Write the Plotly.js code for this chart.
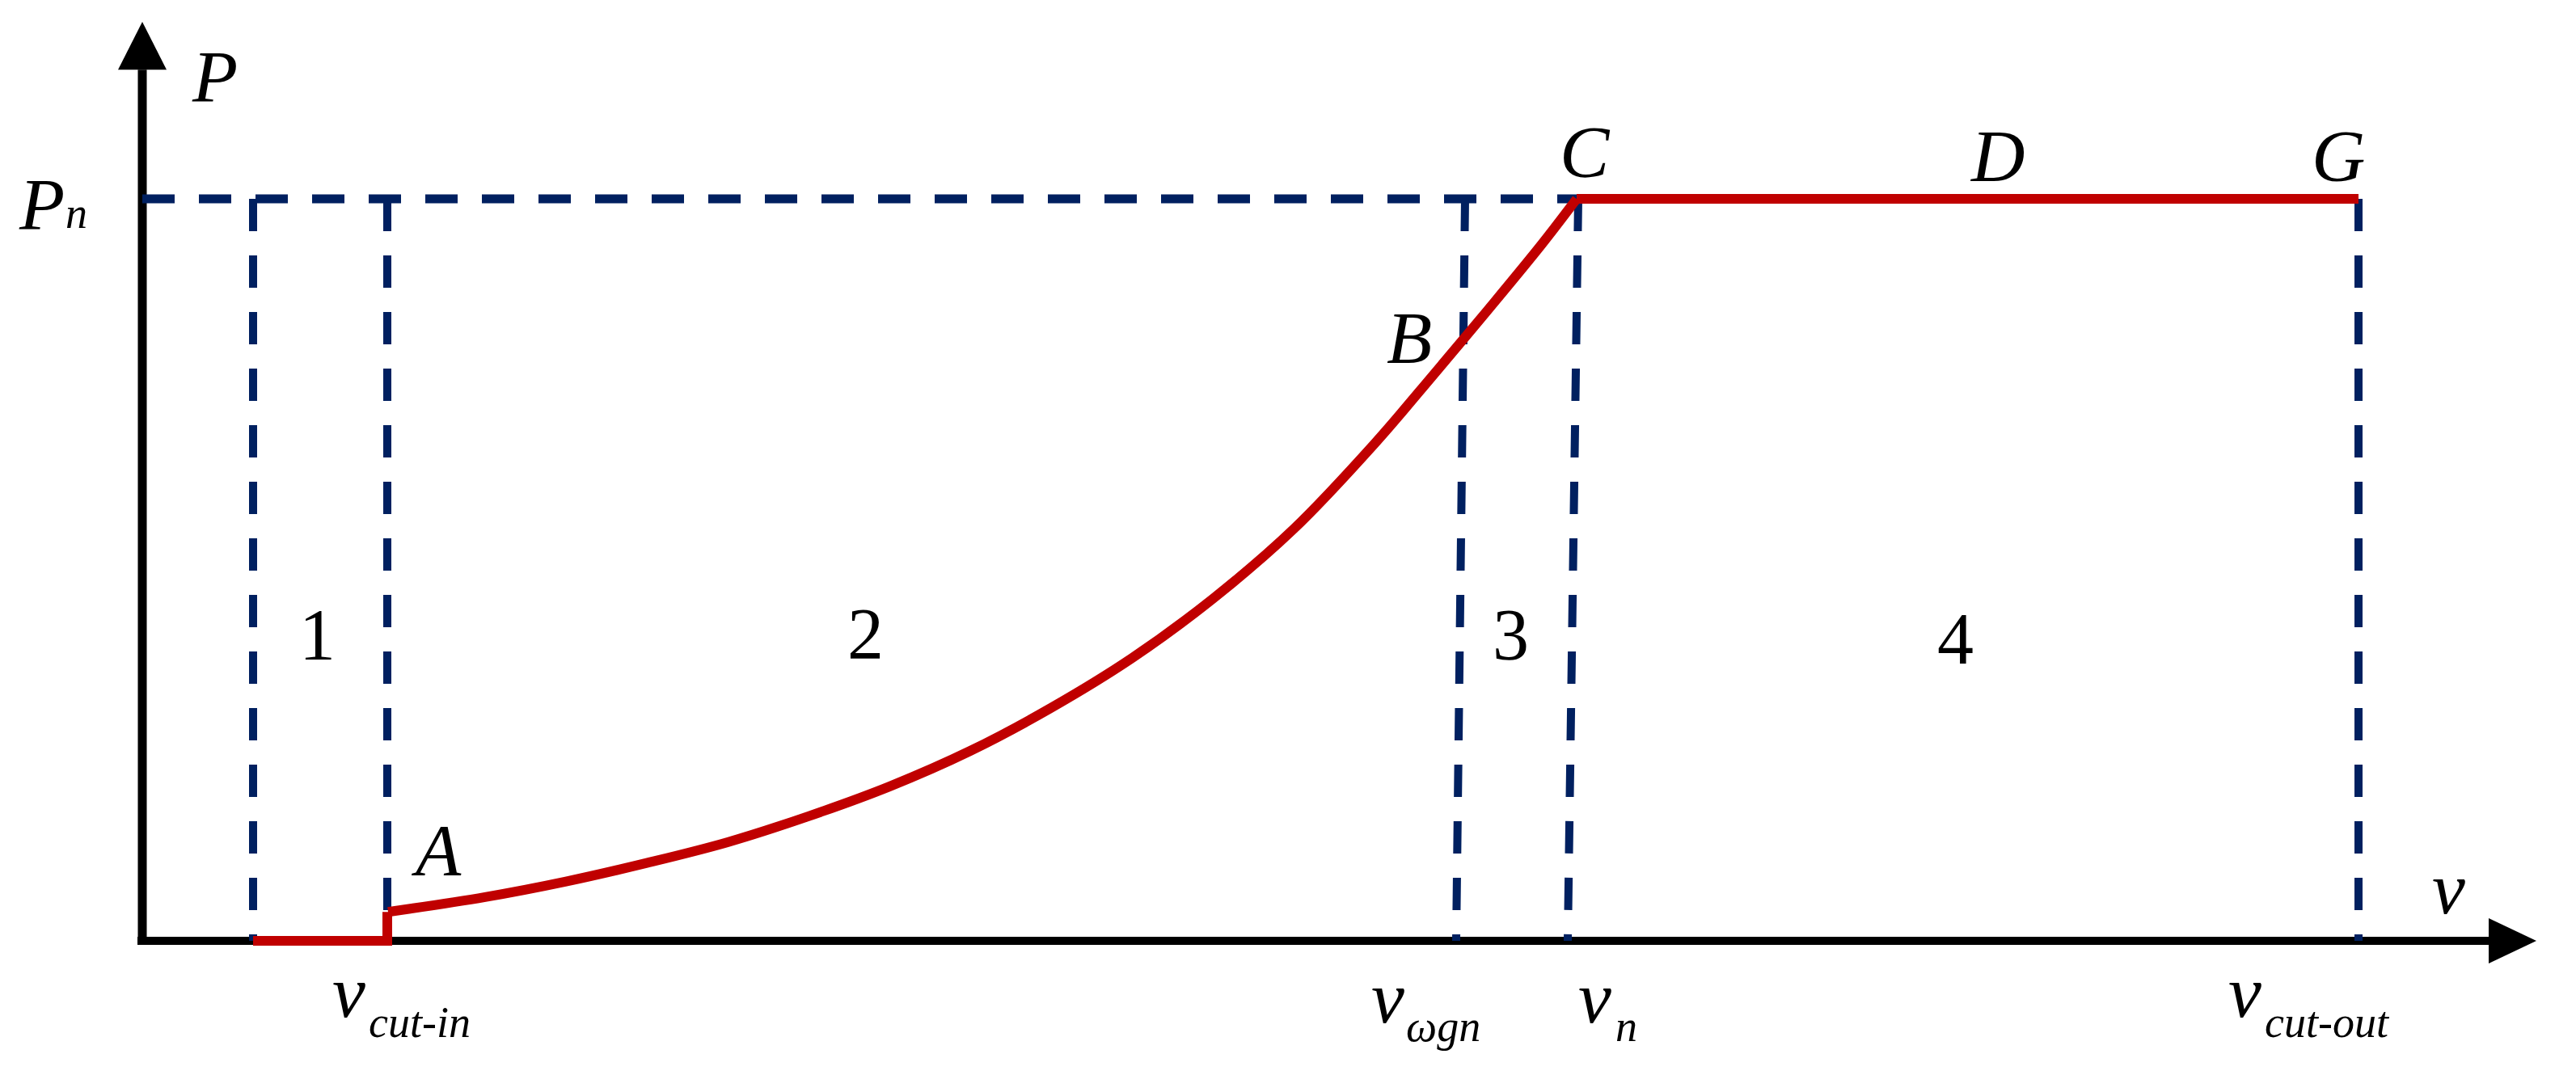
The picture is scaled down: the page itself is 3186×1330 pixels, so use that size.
<!DOCTYPE html>
<html>
<head>
<meta charset="utf-8">
<script src="https://cdn.plot.ly/plotly-3.0.1.min.js"></script>
<style>
html,body{margin:0;padding:0;background:#ffffff;}
#chart{width:3186px;height:1330px;}
</style>
</head>
<body>
<div id="chart"></div>
<script>
// ---- data (wind speed v in arbitrary units, power P in per-unit of Pn) ----
// region boundary lines (dashed), read at their top (P = Pn) and bottom (P = 0)
const boundaryTopV    = [1.37, 3.03, 16.36, 17.76, 27.41];
const boundaryBottomV = [1.37, 3.03, 16.25, 17.63, 27.41];
const ratedP = 1.0;

// region 1: zero output below cut-in, then the jump at A
const region1V = [1.37, 3.03, 3.03];
const region1P = [0, 0, 0.039];

// regions 2-3: rising curve A -> B -> C
const curveV = [3.04, 4.24, 5.24, 6.24, 7.24, 8.24, 9.24, 10.24, 11.24, 12.24,
                13.24, 14.24, 15.24, 15.97, 16.64, 17.31, 17.74];
const curveP = [0.039, 0.059, 0.080, 0.105, 0.133, 0.168, 0.208, 0.256, 0.314, 0.381,
                0.461, 0.555, 0.670, 0.763, 0.850, 0.939, 1.0];

// region 4: rated power C -> D -> G
const region4V = [17.74, 27.41];
const region4P = [1.0, 1.0];

// axis extents (arrow base and tip)
const vAxisEnd = 29.02, vArrowTip = 29.61;
const pAxisEnd = 1.174, pArrowTip = 1.2386;

// labels
const regionLabels = ['1', '2', '3', '4'];
const pointLabels = ['A', 'B', 'C', 'D', 'G'];
const xTickMain = ['v', 'v', 'v', 'v'];
const xTickSub = ['cut-in', 'ωgn', 'n', 'cut-out'];

// ---- drawing ----
const RED = '#C00000';
const BLUE = '#002060';
const FONT = 'Liberation Serif';

function redTrace(x, y, shape) {
  return {x: x, y: y, type: 'scatter', mode: 'lines', hoverinfo: 'skip', showlegend: false,
          line: {color: RED, width: 12, shape: shape || 'linear', smoothing: 1}};
}
const traces = [
  redTrace(region1V, region1P),
  redTrace(curveV, curveP, 'spline'),
  redTrace(region4V, region4P)
];

const shapes = [];
// axes
shapes.push({type: 'line', layer: 'below', xref: 'x', yref: 'y', x0: 0, y0: -0.0055, x1: 0, y1: pAxisEnd,
             line: {color: '#000', width: 11}});
shapes.push({type: 'line', layer: 'below', xref: 'x', yref: 'y', x0: -0.06, y0: 0, x1: vAxisEnd, y1: 0,
             line: {color: '#000', width: 10}});
shapes.push({type: 'path', layer: 'below', xref: 'x', yref: 'y', fillcolor: '#000', line: {width: 0},
             path: 'M ' + (-0.30) + ',' + pAxisEnd + ' L 0.30,' + pAxisEnd + ' L 0,' + pArrowTip + ' Z'});
shapes.push({type: 'path', layer: 'below', xref: 'x', yref: 'y', fillcolor: '#000', line: {width: 0},
             path: 'M ' + vAxisEnd + ',0.0305 L ' + vAxisEnd + ',-0.0305 L ' + vArrowTip + ',0 Z'});
// rated power dashed line
shapes.push({type: 'line', layer: 'below', xref: 'x', yref: 'y', x0: 0, y0: ratedP, x1: boundaryTopV[3], y1: ratedP,
             line: {color: BLUE, width: 11, dash: '40px,30px'}});
// region boundaries
for (let i = 0; i < boundaryTopV.length; i++) {
  shapes.push({type: 'line', layer: 'below', xref: 'x', yref: 'y',
               x0: boundaryTopV[i], y0: ratedP, x1: boundaryBottomV[i], y1: 0,
               line: {color: BLUE, width: 10, dash: '40px,30px'}});
}

function ann(x, y, text, size, extra) {
  return Object.assign({x: x, y: y, xref: 'x', yref: 'y', text: text, showarrow: false,
    font: {family: FONT, size: size, color: '#000'}, xanchor: 'center', yanchor: 'middle', borderpad: 0}, extra || {});
}
const annotations = [];
// axis names
annotations.push(ann(0.89, 1.1645, '<i>P</i>', 92));
annotations.push(ann(28.52, 0.0708, '<i>v</i>', 92));
// Pn
annotations.push(ann(-1.25, 0.9924, '<i>P</i>', 92));
annotations.push(ann(-0.96, 0.9804, '<i>n</i>', 54, {xanchor: 'left'}));
// point labels
const pointPos = [[3.63, 0.122], [15.67, 0.8126], [17.84, 1.0632], [22.94, 1.0577], [27.16, 1.0577]];
pointLabels.forEach((t, i) => annotations.push(ann(pointPos[i][0], pointPos[i][1], '<i>' + t + '</i>', 92)));
// region numbers
const regionPos = [[2.16, 0.4118], [8.94, 0.4129], [16.92, 0.4118], [22.42, 0.4074]];
regionLabels.forEach((t, i) => annotations.push(ann(regionPos[i][0], regionPos[i][1], t, 90)));
// x tick labels
const mainPos = [[2.55, -0.0686], [15.40, -0.0763], [17.96, -0.0763], [26.00, -0.0686]];
const subPos = [[2.79, -0.1100], [15.62, -0.1155], [18.21, -0.1155], [26.24, -0.1100]];
xTickMain.forEach((t, i) => {
  annotations.push(ann(mainPos[i][0], mainPos[i][1], '<i>' + t + '</i>', 92));
  annotations.push(ann(subPos[i][0], subPos[i][1], '<i>' + xTickSub[i] + '</i>', 54, {xanchor: 'left'}));
});

const layout = {
  width: 3186, height: 1330,
  margin: {l: 0, r: 0, t: 0, b: 0, pad: 0},
  paper_bgcolor: '#ffffff', plot_bgcolor: '#ffffff',
  showlegend: false,
  xaxis: {range: [-1.76, 30.10], showgrid: false, zeroline: false, showline: false,
          showticklabels: false, ticks: '', fixedrange: true},
  yaxis: {range: [-0.1808, 1.268], showgrid: false, zeroline: false, showline: false,
          showticklabels: false, ticks: '', fixedrange: true},
  shapes: shapes,
  annotations: annotations
};

Plotly.newPlot('chart', traces, layout, {staticPlot: true, displayModeBar: false});
</script>
</body>
</html>
